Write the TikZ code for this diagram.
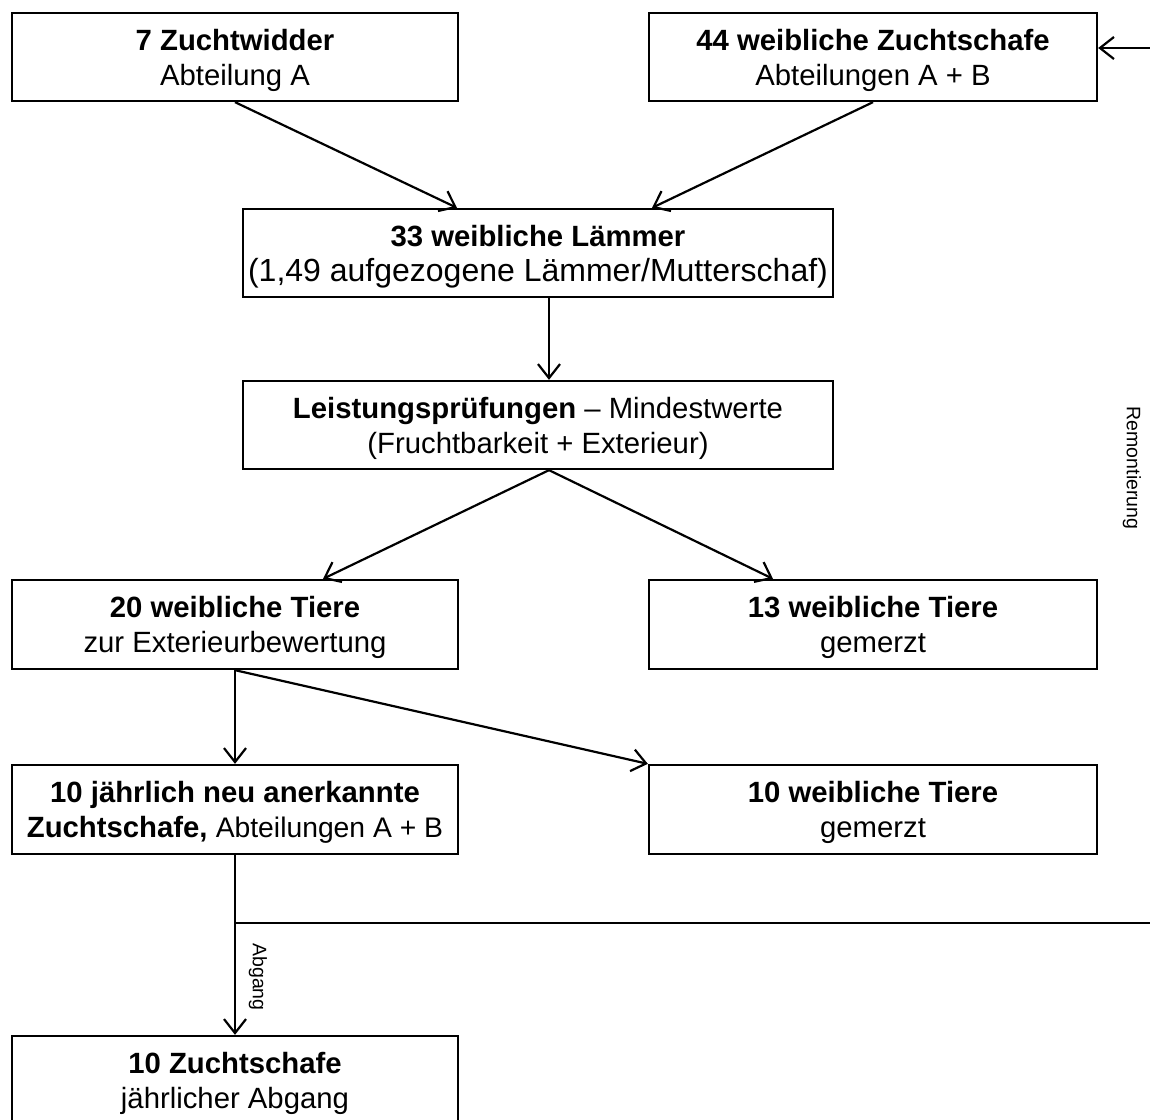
\documentclass[tikz,border=0pt]{standalone}
\usepackage{fontspec}
\setmainfont{Liberation Sans}
\usetikzlibrary{arrows.meta}
\newcommand\mainsz{\fontsize{29.3pt}{35pt}\selectfont}
\newcommand\smallsz{\fontsize{28.3pt}{35pt}\selectfont}
\newcommand\widesz{\fontsize{32pt}{35pt}\selectfont}
\newcommand\twolines[2]{\raisebox{-3.5pt}[\height][\depth]{\begin{tabular}{@{}c@{}}#1\\#2\end{tabular}}}
\begin{document}
\begin{tikzpicture}[x=1pt,y=-1pt,
  box/.style={draw, line width=2.3pt, inner sep=0pt, align=center, font=\mainsz, minimum height=88pt},
  wbox/.style={box, minimum width=446pt},
  rbox/.style={box, minimum width=448pt},
  cbox/.style={box, minimum width=590pt},
  conn/.style={line width=2.2pt, -{Straight Barb[length=14pt,width=22pt]}},
  plainline/.style={line width=2.2pt},
  lbl/.style={font=\fontsize{19.5pt}{22pt}\selectfont, rotate=-90, inner sep=0pt}]
\fill[white] (0,0) rectangle (1150,1119);
\useasboundingbox (0,0) rectangle (1150,1119);

\node[wbox] (A) at (235,57) {\twolines{\textbf{7 Zuchtwidder}}{Abteilung A}};
\node[rbox] (B) at (873,57) {\twolines{\textbf{44 weibliche Zuchtschafe}}{Abteilungen A + B}};
\node[cbox] (C) at (538,253) {\twolines{\textbf{33 weibliche Lämmer}}{\widesz (1,49 aufgezogene Lämmer/Mutterschaf)}};
\node[cbox] (D) at (538,425) {\twolines{\textbf{Leistungsprüfungen} – Mindestwerte}{(Fruchtbarkeit + Exterieur)}};
\node[wbox, minimum height=89pt] (E) at (235,624.5) {\twolines{\textbf{20 weibliche Tiere}}{zur Exterieurbewertung}};
\node[rbox, minimum height=89pt] (F) at (873,624.5) {\twolines{\textbf{13 weibliche Tiere}}{gemerzt}};
\node[wbox, minimum height=89pt] (G) at (235,809.5) {\twolines{\textbf{10 jährlich neu anerkannte}}{\textbf{Zuchtschafe,} {\smallsz Abteilungen A + B}}};
\node[rbox, minimum height=89pt] (H) at (873,809.5) {\twolines{\textbf{10 weibliche Tiere}}{gemerzt}};
\node[wbox] (I) at (235,1080) {\twolines{\textbf{10 Zuchtschafe}}{jährlicher Abgang}};

\draw[conn] (A.south) -- ([xshift=-81pt]C.north);
\draw[conn] (B.south) -- ([xshift=114pt]C.north);
\draw[conn] ([xshift=11pt]C.south) -- ([xshift=11pt]D.north);
\draw[conn] ([xshift=11pt]D.south) -- ([xshift=88pt]E.north);
\draw[conn] ([xshift=11pt]D.south) -- ([xshift=-100pt]F.north);
\draw[conn] (E.south) -- (G.north);
\draw[conn] (E.south) -- (H.north west);
\draw[conn] (G.south) -- (I.north);

\coordinate (J) at (235,923);
\coordinate (R) at (1152,923);
\draw[plainline] (J) -- (R);
\coordinate (T) at (1152,48);
\draw[conn] (T) -- (T -| B.east);

\node[lbl] (rem) at (1132,468) {Remontierung};
\node[lbl] (abg) at (258,977) {Abgang};
\end{tikzpicture}
\end{document}
